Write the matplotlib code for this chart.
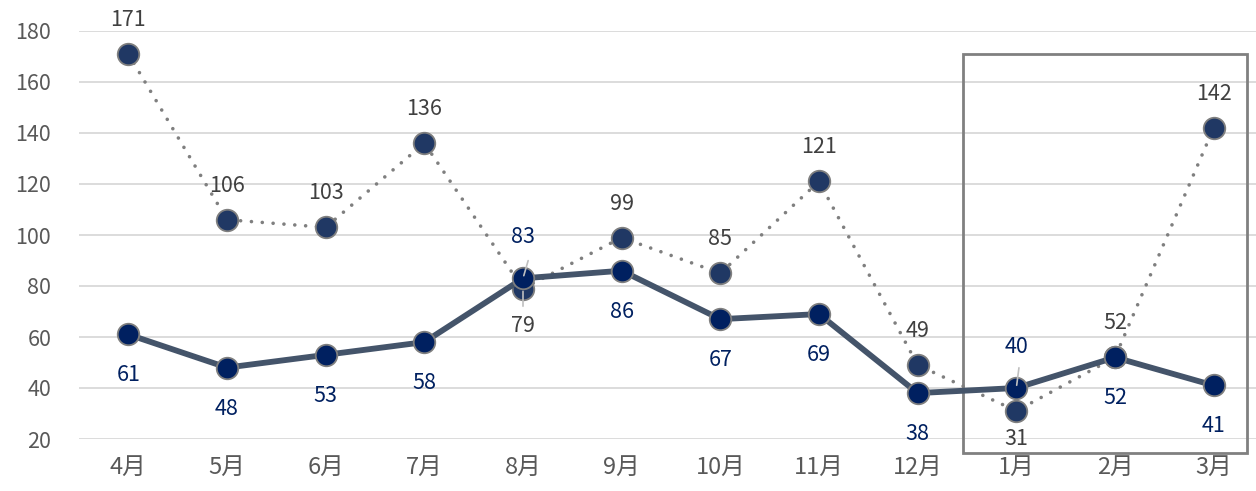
import matplotlib
matplotlib.use('Agg')
import matplotlib.pyplot as plt
from matplotlib.patches import Rectangle

plt.rcParams['font.family'] = ['Noto Sans CJK JP', 'DejaVu Sans']

months = ['4月', '5月', '6月', '7月', '8月', '9月', '10月', '11月', '12月', '1月', '2月', '3月']
dotted_vals = [171, 106, 103, 136, 79, 99, 85, 121, 49, 31, 52, 142]
solid_vals = [61, 48, 53, 58, 83, 86, 67, 69, 38, 40, 52, 41]
# labels which go the other way round
dotted_below = [4, 9]
solid_above = [4, 9]

fig = plt.figure(figsize=(12.56, 4.91), dpi=100)
W, H = 1256, 491
ax = fig.add_axes([79/W, (H-439)/H, (1263-79)/W, 408/H])

x = list(range(len(months)))

# dotted series
ax.plot(x, dotted_vals, color='#7f7f7f', lw=2.6, linestyle=(0, (0.01, 3.0)),
        dash_capstyle='round', zorder=3)
ax.plot(x, dotted_vals, 'o', ms=15.5, mfc='#203864', mec='#7f7f7f', mew=1.3, zorder=4)

# solid series
ax.plot(x, solid_vals, color='#44546a', lw=4.2, solid_capstyle='round', zorder=5)
ax.plot(x, solid_vals, 'o', ms=15.5, mfc='#002060', mec='#7f7f7f', mew=1.3, zorder=6)

lbl = dict(ha='center', va='center', fontsize=15.5, zorder=7)
for i, v in enumerate(dotted_vals):
    if i in dotted_below:
        off = -37 if i != 9 else -28
    else:
        off = 34
    ax.annotate(str(v), (i, v), xytext=(0, off * 0.72), textcoords='offset points',
                color='#404040', **lbl)
for i, v in enumerate(solid_vals):
    off = 41 if i in solid_above else -41
    ax.annotate(str(v), (i, v), xytext=(0, off * 0.72), textcoords='offset points',
                color='#002060', **lbl)

# leader lines
ax.annotate('', (4, solid_vals[4]), xytext=(4.06, solid_vals[4] + 8),
            arrowprops=dict(arrowstyle='-', color='#bfbfbf', lw=1.2), zorder=8)
ax.annotate('', (4, dotted_vals[4]), xytext=(4, dotted_vals[4] - 8),
            arrowprops=dict(arrowstyle='-', color='#bfbfbf', lw=1.2), zorder=8)
ax.annotate('', (9, solid_vals[9]), xytext=(9.03, solid_vals[9] + 9),
            arrowprops=dict(arrowstyle='-', color='#bfbfbf', lw=1.2), zorder=8)

# frame around last quarter
ax.add_patch(Rectangle((9 - 0.54, 14.5), 2.88, 156.5, fill=False, ec='#808080',
                       lw=2, clip_on=False, zorder=2))

ax.set_xlim(-0.5, 11.5)
ax.set_ylim(20, 180)
ax.set_yticks(range(20, 181, 20))
ax.set_xticks(x)
ax.set_xticklabels(months)
ax.yaxis.grid(True, color='#d9d9d9', lw=1.3)
ax.set_axisbelow(True)
for s in ax.spines.values():
    s.set_visible(False)
ax.tick_params(length=0, colors='#595959')
ax.tick_params(axis='y', pad=20, labelsize=15.5)
ax.tick_params(axis='x', pad=12, labelsize=17)

fig.savefig('out.png', dpi=100)
